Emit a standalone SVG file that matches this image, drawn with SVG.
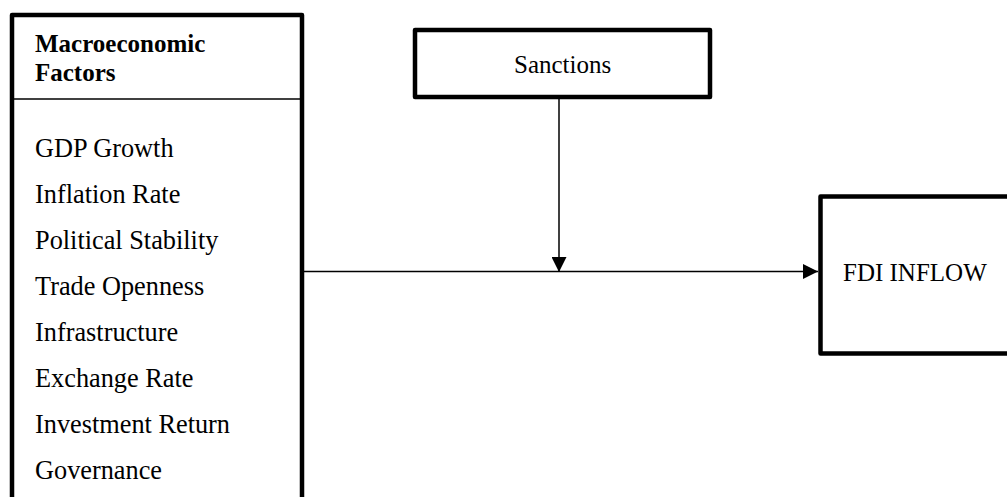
<svg xmlns="http://www.w3.org/2000/svg" width="1007" height="497" viewBox="0 0 1007 497">
<style>
.box{fill:#fff;stroke:#000;stroke-width:4.5;stroke-linejoin:round}
.t{font-family:'Liberation Serif','Times New Roman',serif;font-size:26.3px;fill:#000}
.b{font-weight:bold;font-size:25px}
.s{font-size:25px}
.ln{stroke:#000;stroke-width:1.5;fill:none}
</style>
<defs>
<marker id="ah" markerWidth="15" markerHeight="15" refX="15" refY="7.5" orient="auto" markerUnits="userSpaceOnUse">
<path d="M0,0 L15,7.5 L0,15 Z" fill="#000"/>
</marker>
</defs>
<rect width="1007" height="497" fill="#fff"/>
<g id="macro">
<rect class="box" x="12" y="15" width="290" height="500"/>
<line x1="14" y1="99" x2="300" y2="99" stroke="#000" stroke-width="1.5"/>
<text class="t b" x="35" y="52">Macroeconomic</text>
<text class="t b" x="35" y="81">Factors</text>
<text class="t" x="35" y="157">GDP Growth</text>
<text class="t" x="35" y="203">Inflation Rate</text>
<text class="t" x="35" y="249">Political Stability</text>
<text class="t" x="35" y="295">Trade Openness</text>
<text class="t" x="35" y="341">Infrastructure</text>
<text class="t" x="35" y="387">Exchange Rate</text>
<text class="t" x="35" y="433">Investment Return</text>
<text class="t" x="35" y="479">Governance</text>
</g>
<g id="sanctions">
<rect class="box" x="415" y="30" width="295" height="67"/>
<text class="t s" x="514" y="73">Sanctions</text>
</g>
<g id="fdi">
<rect class="box" x="820.5" y="196.5" width="200" height="157"/>
<text class="t s" x="843" y="281">FDI INFLOW</text>
</g>
<g id="connectors">
<line class="ln" x1="304" y1="271.5" x2="818" y2="271.5" marker-end="url(#ah)"/>
<line class="ln" x1="559" y1="99" x2="559" y2="272" marker-end="url(#ah)"/>
</g>
</svg>
